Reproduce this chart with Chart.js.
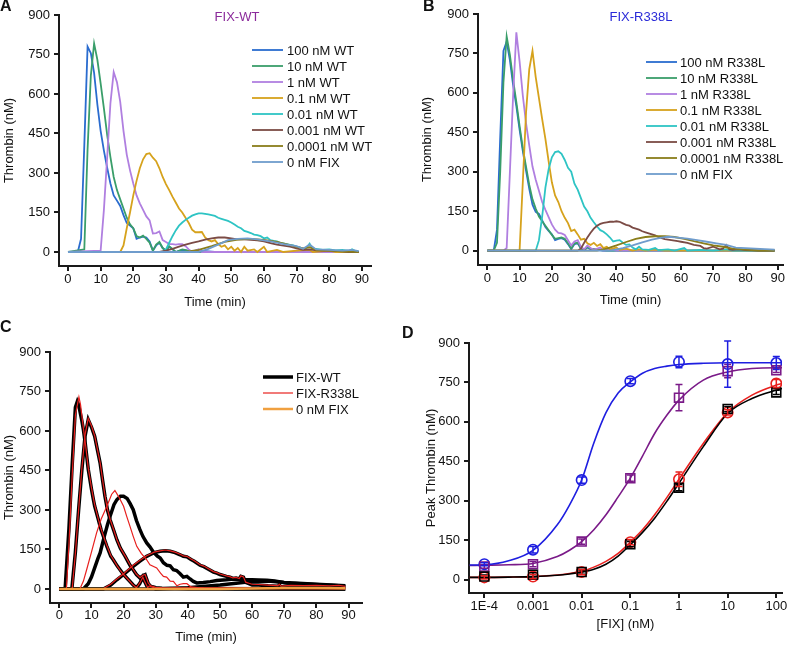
<!DOCTYPE html>
<html>
<head>
<meta charset="utf-8">
<script src="https://cdn.jsdelivr.net/npm/chart.js@4.4.1/dist/chart.umd.min.js"></script>
<style>
  body { margin: 0; background: #fff; width: 790px; height: 645px; position: relative; overflow: hidden;
         font-family: "Liberation Sans", Arial, sans-serif; }
  canvas { position: absolute; }
  .lbl { position: absolute; font-weight: bold; font-size: 16px; line-height: 16px; color: #111; }
  .ttl { position: absolute; font-size: 13px; line-height: 16px; width: 120px; text-align: center; }
</style>
</head>
<body>
<canvas id="chartA" width="395" height="320" style="left:0;top:0"></canvas>
<canvas id="chartB" width="372" height="320" style="left:418px;top:0"></canvas>
<canvas id="chartC" width="395" height="325" style="left:0;top:320px"></canvas>
<canvas id="chartD" width="372" height="325" style="left:418px;top:320px"></canvas>
<div class="lbl" style="left:0;top:-2px">A</div>
<div class="lbl" style="left:423px;top:-2px">B</div>
<div class="lbl" style="left:0;top:319px">C</div>
<div class="lbl" style="left:402px;top:325px">D</div>
<div class="ttl" style="left:177px;top:9px;color:#8b2a9b">FIX-WT</div>
<div class="ttl" style="left:581px;top:9px;color:#2a2ad8">FIX-R338L</div>
<script>
// ---- tick labels ----
const timeTicks = [0, 10, 20, 30, 40, 50, 60, 70, 80, 90];
const thrombinTicks = [0, 150, 300, 450, 600, 750, 900];
const concTicks = [1e-4, 1e-3, 0.01, 0.1, 1, 10, 100];
const concTickLabels = ['1E-4', '0.001', '0.01', '0.1', '1', '10', '100'];

// ---- panel A : FIX-WT thrombin generation, [time (min), thrombin (nM)] ----
const wtLabels = ['100 nM WT', '10 nM WT', '1 nM WT', '0.1 nM WT', '0.01 nM WT', '0.001 nM WT', '0.0001 nM WT', '0 nM FIX'];
const wt100 = [[0,0],[3,0],[4,50],[5,405],[6,780],[7,755],[8,680],[9,560],[10,460],[11,385],[12,320],[13,260],[14,215],[15,195],[16,175],[17,140],[18,110],[19,100],[20,90],[21,50],[22,55],[23,58],[24,55],[25,40],[26,5],[27,25],[28,35],[29,15],[30,5],[31,20],[32,10],[33,0],[35,8],[37,3],[40,5],[45,0],[89,0]];
const wt10 = [[0,0],[5,10],[6,390],[7,670],[8,792],[9,730],[10,640],[11,545],[12,445],[13,360],[14,285],[15,235],[16,200],[17,165],[18,130],[19,105],[20,90],[21,60],[22,55],[23,62],[24,50],[25,35],[26,5],[27,28],[28,38],[29,15],[30,5],[31,22],[32,12],[33,0],[35,10],[37,5],[39,0],[89,0]];
const wt1 = [[0,0],[10,5],[11,160],[12,360],[13,565],[14,683],[15,645],[16,570],[17,460],[18,370],[19,310],[20,260],[21,215],[22,185],[23,160],[24,135],[25,120],[26,70],[27,72],[28,78],[29,45],[30,38],[31,30],[32,30],[33,28],[34,30],[35,30],[36,22],[37,10],[38,0],[39,5],[40,10],[41,0],[89,0]];
const wt01 = [[0,0],[16,0],[17,25],[18,90],[19,150],[20,215],[21,270],[22,318],[23,352],[24,372],[25,375],[26,358],[27,345],[28,318],[29,285],[30,258],[31,235],[32,210],[33,188],[34,165],[35,150],[36,130],[37,110],[38,85],[39,75],[40,75],[41,76],[42,55],[43,45],[44,40],[45,45],[46,30],[47,20],[48,25],[49,10],[50,20],[51,5],[52,15],[53,0],[54,20],[55,5],[57,10],[58,0],[60,20],[61,0],[64,8],[66,0],[70,5],[74,8],[75,0],[80,5],[82,0],[89,0]];
const wt001 = [[0,0],[29,0],[30,10],[31,35],[32,60],[33,82],[34,100],[35,112],[36,122],[37,130],[38,138],[39,143],[40,147],[41,147],[42,145],[43,143],[44,140],[45,137],[46,130],[47,126],[48,122],[49,118],[50,112],[51,104],[52,96],[53,90],[54,80],[55,76],[56,72],[57,66],[58,64],[59,60],[60,52],[61,55],[62,45],[63,42],[64,40],[65,35],[66,33],[67,30],[68,27],[69,25],[70,20],[71,18],[72,12],[73,15],[74,32],[75,10],[76,12],[78,8],[80,10],[82,6],[84,8],[86,4],[87,10],[88,4],[89,2]];
const wt0001 = [[0,0],[28,0],[30,5],[32,12],[34,20],[36,28],[38,35],[40,40],[42,47],[44,52],[46,55],[48,55],[50,52],[52,48],[54,48],[56,46],[58,44],[60,40],[62,34],[64,28],[66,24],[68,20],[70,14],[72,8],[74,10],[76,6],[78,5],[80,6],[82,3],[84,2],[86,0],[89,0]];
const wt00001 = [[0,0],[36,0],[40,8],[44,22],[48,38],[52,47],[56,50],[60,46],[64,38],[68,26],[72,14],[74,18],[76,8],[80,5],[84,2],[89,0]];
const noFixA = [[0,0],[40,0],[43,12],[46,28],[49,45],[52,50],[55,52],[58,48],[62,40],[66,30],[70,22],[72,12],[74,28],[76,10],[80,8],[84,5],[87,8],[89,3]];

// ---- panel B : FIX-R338L ----
const rlLabels = ['100 nM R338L', '10 nM R338L', '1 nM R338L', '0.1 nM R338L', '0.01 nM R338L', '0.001 nM R338L', '0.0001 nM R338L', '0 nM FIX'];
const rl100 = [[0,0],[2,0],[3,80],[4,430],[5,760],[6,795],[7,725],[8,630],[9,550],[10,460],[11,380],[12,305],[13,235],[14,175],[15,148],[16,140],[17,115],[18,90],[19,75],[20,62],[21,40],[22,45],[23,48],[24,42],[25,25],[26,6],[27,25],[28,28],[29,8],[30,2],[31,12],[32,5],[34,3],[36,0],[89,0]];
const rl10 = [[0,0],[2,0],[3,30],[4,300],[5,640],[6,815],[7,745],[8,650],[9,565],[10,475],[11,390],[12,320],[13,250],[14,195],[15,160],[16,130],[17,112],[18,95],[19,78],[20,60],[21,45],[22,48],[23,50],[24,45],[25,28],[26,8],[27,28],[28,30],[29,10],[30,3],[31,15],[32,8],[34,5],[36,0],[89,0]];
const rl1 = [[0,0],[5,0],[6,10],[7,300],[8,590],[9,830],[10,720],[11,590],[12,485],[13,400],[14,320],[15,270],[16,228],[17,185],[18,155],[19,128],[20,100],[21,80],[22,68],[23,66],[24,60],[25,40],[26,20],[27,35],[28,40],[29,15],[30,5],[31,20],[32,10],[33,3],[35,12],[36,0],[38,5],[40,0],[89,0]];
const rl01 = [[0,0],[10,0],[11,260],[12,525],[13,690],[14,760],[15,660],[16,580],[17,500],[18,425],[19,340],[20,260],[21,210],[22,185],[23,150],[24,125],[25,105],[26,75],[27,80],[28,62],[29,42],[30,45],[31,28],[32,22],[33,30],[34,18],[35,25],[36,10],[37,15],[38,5],[40,12],[41,3],[43,8],[45,0],[47,5],[49,0],[52,4],[55,0],[89,0]];
const rl001 = [[0,0],[15,0],[16,40],[17,130],[18,240],[19,310],[20,355],[21,375],[22,378],[23,368],[24,345],[25,315],[26,300],[27,255],[28,232],[29,200],[30,168],[31,150],[32,125],[33,108],[34,92],[35,78],[36,72],[37,62],[38,50],[39,35],[40,38],[41,40],[42,30],[43,22],[44,24],[45,12],[46,5],[47,15],[48,5],[50,3],[52,10],[53,2],[56,5],[58,0],[61,10],[62,0],[66,3],[70,0],[74,5],[76,0],[89,0]];
const rl0001 = [[0,0],[28,0],[29,8],[30,30],[31,50],[32,68],[33,84],[34,95],[35,102],[36,106],[37,108],[38,110],[39,110],[40,112],[41,110],[42,104],[43,98],[44,95],[45,88],[46,84],[47,80],[48,74],[49,70],[50,66],[51,62],[52,58],[53,52],[54,48],[55,44],[56,42],[57,40],[58,38],[59,36],[60,34],[62,30],[64,22],[66,18],[67,10],[68,8],[70,15],[72,5],[73,8],[74,22],[75,5],[76,3],[78,5],[80,2],[84,0],[89,0]];
const rl00001 = [[0,0],[34,0],[37,8],[40,20],[43,33],[46,45],[49,52],[52,55],[55,55],[58,52],[61,45],[64,36],[67,28],[70,20],[73,15],[76,8],[79,5],[82,2],[84,0],[89,0]];
const noFixB = [[0,0],[38,0],[42,10],[45,20],[48,32],[51,42],[54,50],[56,53],[59,50],[62,46],[65,40],[68,34],[71,28],[74,22],[77,12],[80,10],[83,8],[86,6],[89,4]];

// ---- panel C : WT (black) vs R338L (red) overlays ----
const cLabels = ['FIX-WT', 'FIX-R338L', '0 nM FIX'];
const cWt1 = [[0,0],[1.8,0],[3,230],[4,470],[5,690],[5.6,712],[6,700],[7,640],[7.5,605],[8,560],[9,455],[10,380],[10.6,340],[11,315],[12,270],[12.7,238],[13,225],[14,190],[14.8,162],[16,125],[16.8,111],[18,88],[18.9,73],[20,55],[21.5,35],[23,15],[24,5],[25,20],[26,45],[26.5,30],[27.5,5],[28,10],[30,0],[40,2],[89,0]];
const cWt2 = [[0,0],[3.9,0],[5,140],[6,300],[7,450],[8,580],[9,643],[10,615],[11,580],[12,520],[12.7,478],[13.5,410],[14.2,352],[15,300],[15.8,263],[17,220],[17.9,187],[19,155],[20.5,124],[22,90],[23,73],[24,55],[25.1,42],[26,50],[26.7,54],[27.7,20],[28.5,10],[29.3,8],[30,5],[32,3],[40,0],[89,0]];
const cWt3 = [[0,0],[7.5,0],[9,20],[10,45],[11,80],[12,115],[12.7,137],[14,200],[15,245],[15.8,276],[17,320],[17.9,339],[19,352],[20,352],[21.1,344],[22,325],[23,301],[24,260],[25,228],[26,200],[27.2,175],[28.2,160],[29.3,140],[30.5,125],[31.4,118],[32.4,100],[33.5,90],[34.5,88],[35.5,73],[36.5,70],[37.6,58],[38.6,45],[39.7,48],[40.7,38],[41.7,29],[42.8,23],[44.8,25],[47,28],[49,32],[52,35],[54.2,38],[57,36],[60,35],[62,34],[64.6,33],[67,30],[69.8,25],[72,22],[75,20],[78,18],[81,16],[84,14],[87,12],[89,10]];
const cWt4 = [[0,0],[13.7,0],[16,15],[17.9,35],[20,55],[23,86],[25,105],[27.2,124],[28.2,130],[29.5,138],[31.4,143],[33,145],[34.5,143],[36,138],[37.6,130],[38.6,124],[39.7,122],[41,112],[42,105],[43.8,90],[45,85],[46,78],[48,64],[49,60],[50,55],[52,48],[53.1,45],[54,40],[55,42],[56,38],[56.5,48],[57.3,45],[58,25],[59,20],[60,15],[62,15],[65,12],[68,10],[68.5,15],[69,8],[72,12],[76,10],[80,12],[84,10],[87,12],[89,8]];
const cWt5 = [[0,0],[30,0],[40,5],[50,15],[60,28],[65,30],[70,25],[80,18],[89,12]];
const cRl1 = [[0,0],[2.2,0],[3,170],[4,430],[5,660],[6.1,729],[6.6,700],[7.5,610],[8,565],[9,460],[10,385],[10.6,345],[11,320],[12,272],[12.7,240],[13,228],[14,192],[14.8,165],[16,128],[16.8,112],[18,88],[18.9,72],[20,55],[21.5,35],[23,15],[24,5],[25,22],[26,45],[26.5,30],[27.5,6],[28,12],[30,2],[40,4],[89,2]];
const cRl2 = [[0,0],[4,0],[5,135],[6,300],[7,455],[8,585],[9,648],[10,620],[11,582],[12,522],[12.7,480],[13.5,412],[14.2,355],[15,302],[15.8,265],[17,222],[17.9,188],[19,156],[20.5,125],[22,92],[23,74],[24,56],[25.1,43],[26,52],[26.7,55],[27.7,22],[28.5,12],[29.3,9],[30,6],[32,4],[40,2],[89,2]];
const cRl3 = [[0,0],[6.4,0],[7.5,30],[8.5,73],[10,140],[11.6,213],[13,265],[14.8,314],[16.3,360],[17.3,374],[18.5,350],[20,314],[21,275],[22,238],[23,200],[24.1,162],[25.5,135],[27.2,111],[28.2,92],[30.3,80],[31.5,60],[32.4,48],[33.4,45],[34.5,30],[35.5,29],[36.6,12],[37.6,18],[38.6,20],[39.7,20],[41,8],[43,5],[45,3],[50,2],[89,0]];
const cRl4 = [[0,0],[13.5,0],[16,18],[17.9,38],[20,58],[23,90],[25,108],[27.2,126],[28.2,132],[29.5,140],[31.4,145],[33,148],[34.5,145],[36,140],[37.6,132],[38.6,126],[39.7,124],[41,114],[42,107],[43.8,92],[45,87],[46,80],[48,66],[49,62],[50,57],[52,50],[53.1,47],[54,42],[55,44],[56,40],[56.5,50],[57.3,46],[58,26],[59,22],[60,18],[62,17],[65,15],[68,13],[68.5,18],[69,11],[72,14],[76,13],[80,14],[84,12],[87,14],[89,10]];
const cNoFix = [[0,0],[50,0],[60,2],[70,4],[80,4],[89,3]];

// ---- panel D : peak thrombin vs [FIX] ----
const dConc = [1e-4, 1e-3, 0.01, 0.1, 1, 10, 100];
const peakBlue = [59, 114, 379, 755, 828, 820, 824];
const peakPurple = [50, 59, 145, 386, 692, 793, 796];
const peakRed = [9, 12, 29, 143, 382, 636, 746];
const peakBlack = [12, 19, 29, 135, 350, 649, 712];
const errBlue = [6, 12, 12, 10, 22, 88, 25];
const errPurple = [6, 10, 10, 12, 50, 25, 8];
const errRed = [6, 8, 10, 10, 28, 10, 15];
const errBlack = [6, 8, 8, 10, 12, 10, 8];
// fitted curves
const fitX = [5e-5, 1e-4, 3.16e-4, 1e-3, 3.16e-3, 5.62e-3, 0.01, 0.0178, 0.0316, 0.0562, 0.1, 0.178, 0.316, 0.562, 1, 3.16, 10, 31.6, 100, 131];
const fitBlue = [56, 57, 72, 112, 209, 284, 379, 520, 635, 710, 752, 785, 803, 812, 818, 823, 825, 825, 825, 825];
const fitPurple = [54, 55, 57, 62, 88, 112, 145, 190, 247, 315, 386, 470, 556, 625, 683, 759, 790, 803, 806, 806];
const fitRed = [9, 9, 10, 12, 18, 24, 32, 48, 70, 100, 143, 190, 247, 312, 382, 518, 636, 702, 740, 746];
const fitBlack = [9, 9, 10, 12, 17, 22, 29, 40, 59, 90, 133, 180, 234, 298, 367, 506, 632, 689, 721, 727];

Chart.defaults.font.family = '"Liberation Sans", Arial, sans-serif';
Chart.defaults.font.size = 13;
Chart.defaults.color = '#111';

const lineColors = ['#2a6ccf', '#3a9e6a', '#b07fe0', '#d6a21c', '#2ec4c4', '#7b4b45', '#8a7d1a', '#6f9ccc'];

// legend drawn as short line + label, inside the plot
const lineLegend = {
  id: 'lineLegend',
  afterDatasetsDraw(chart, args, opts) {
    if (!opts || !opts.show) return;
    const ctx = chart.ctx;
    ctx.save();
    ctx.font = '13px "Liberation Sans", Arial, sans-serif';
    ctx.textBaseline = 'middle';
    let y = opts.y;
    chart.data.datasets.forEach(ds => {
      if (ds.inLegend === false) return;
      ctx.strokeStyle = ds.borderColor;
      ctx.lineWidth = ds.borderWidth;
      ctx.beginPath();
      ctx.moveTo(opts.x0, y);
      ctx.lineTo(opts.x1, y);
      ctx.stroke();
      ctx.fillStyle = '#111';
      ctx.fillText(ds.label, opts.tx, y + 1);
      y += opts.rowH;
    });
    ctx.restore();
  }
};

const errorBars = {
  id: 'errorBars',
  afterDatasetsDraw(chart) {
    const ctx = chart.ctx;
    const ys = chart.scales.y;
    chart.data.datasets.forEach((ds, i) => {
      if (!ds.errors) return;
      const meta = chart.getDatasetMeta(i);
      ctx.save();
      ctx.strokeStyle = ds.borderColor;
      ctx.lineWidth = 1.5;
      meta.data.forEach((pt, j) => {
        const v = ds.data[j][1], e = ds.errors[j];
        const top = ys.getPixelForValue(v + e), bot = ys.getPixelForValue(v - e);
        ctx.beginPath();
        ctx.moveTo(pt.x, top); ctx.lineTo(pt.x, bot);
        ctx.moveTo(pt.x - 3.5, top); ctx.lineTo(pt.x + 3.5, top);
        ctx.moveTo(pt.x - 3.5, bot); ctx.lineTo(pt.x + 3.5, bot);
        ctx.stroke();
      });
      ctx.restore();
    });
  }
};

function axis(o) {
  return {
    type: o.type || 'linear',
    min: o.min, max: o.max,
    grid: { drawOnChartArea: false, drawTicks: true, tickLength: 5, color: '#1a1a1a', lineWidth: 2 },
    border: { display: true, color: '#1a1a1a', width: 2 },
    ticks: { color: '#111', padding: o.tickPad, autoSkip: false, maxRotation: 0,
             callback: o.labels ? (v, i) => o.labels[i] : (v => v) },
    title: { display: true, text: o.title, color: '#111', font: { size: 13 }, padding: o.titlePad },
    afterBuildTicks: s => { s.ticks = o.ticks.map(v => ({ value: v })); },
    afterFit: s => { if (o.width) s.width = o.width; if (o.height) s.height = o.height; }
  };
}

function makeChart(id, datasets, g, legend) {
  return new Chart(document.getElementById(id), {
    type: 'line',
    data: { datasets: datasets },
    options: {
      responsive: false, animation: false, devicePixelRatio: 1,
      layout: { padding: { left: 0, top: g.top, right: g.right, bottom: 0 } },
      elements: { point: { radius: 0 }, line: { tension: 0 } },
      plugins: { legend: { display: false }, tooltip: { enabled: false }, lineLegend: legend || { show: false } },
      scales: { x: axis(g.x), y: axis(g.y) }
    },
    plugins: [lineLegend, errorBars]
  });
}

function series(labels, arrays) {
  const n = arrays.length;
  return arrays.map((d, i) => ({
    label: labels[i], data: d, borderColor: lineColors[i], borderWidth: 1.8,
    pointRadius: 0, order: n - i
  }));
}

// A
makeChart('chartA', series(wtLabels, [wt100, wt10, wt1, wt01, wt001, wt0001, wt00001, noFixA]), {
  top: 15, right: 24,
  x: { min: -2.75, max: 92.8, ticks: timeTicks, title: 'Time (min)', tickPad: 1, titlePad: { top: 0, bottom: 10 }, height: 54 },
  y: { min: -53.2, max: 900, ticks: thrombinTicks, title: 'Thrombin (nM)', tickPad: 4, titlePad: { top: 2, bottom: 0 }, width: 59 }
}, { show: true, x0: 252, x1: 283, tx: 287, y: 50, rowH: 16 });

// B
makeChart('chartB', series(rlLabels, [rl100, rl10, rl1, rl01, rl001, rl0001, rl00001, noFixB]), {
  top: 14, right: 7,
  x: { min: -2.88, max: 91.6, ticks: timeTicks, title: 'Time (min)', tickPad: 1, titlePad: { top: 0, bottom: 12 }, height: 55 },
  y: { min: -54.4, max: 900, ticks: thrombinTicks, title: 'Thrombin (nM)', tickPad: 4, titlePad: { top: 2, bottom: 0 }, width: 60 }
}, { show: true, x0: 228, x1: 259, tx: 262, y: 62, rowH: 16 });

// C
const cDatasets = [];
[cWt1, cWt2, cWt3, cWt4, cWt5].forEach((d, i) => cDatasets.push({
  label: cLabels[0], data: d, borderColor: '#000', borderWidth: 3.5, order: 3, inLegend: i === 0
}));
[cRl1, cRl2, cRl3, cRl4].forEach((d, i) => cDatasets.push({
  label: cLabels[1], data: d, borderColor: '#e8201e', borderWidth: 1.2, order: 2, inLegend: i === 0
}));
cDatasets.push({ label: cLabels[2], data: cNoFix, borderColor: '#f0a040', borderWidth: 2.5, order: 1 });
makeChart('chartC', cDatasets, {
  top: 32, right: 33,
  x: { min: -2.9, max: 94.2, ticks: timeTicks, title: 'Time (min)', tickPad: 0, titlePad: { top: 0, bottom: 0 }, height: 42 },
  y: { min: -53.2, max: 900, ticks: thrombinTicks, title: 'Thrombin (nM)', tickPad: 4, titlePad: { top: 2, bottom: 0 }, width: 50 }
}, { show: true, x0: 263, x1: 293, tx: 296, y: 57, rowH: 16 });

// D
const pair = (xs, ys) => xs.map((x, j) => [x, ys[j]]);
const dDatasets = [
  { label: 'fit blue', data: pair(fitX, fitBlue), borderColor: '#1e1ee0', borderWidth: 1.6, cubicInterpolationMode: 'monotone', order: 2 },
  { label: 'fit purple', data: pair(fitX, fitPurple), borderColor: '#7a1a88', borderWidth: 1.6, cubicInterpolationMode: 'monotone', order: 2 },
  { label: 'fit black', data: pair(fitX, fitBlack), borderColor: '#000', borderWidth: 1.6, cubicInterpolationMode: 'monotone', order: 2 },
  { label: 'fit red', data: pair(fitX, fitRed), borderColor: '#e8201e', borderWidth: 1.6, cubicInterpolationMode: 'monotone', order: 2 }
];
[[peakBlack, errBlack, '#000', 'rect'], [peakPurple, errPurple, '#7a1a88', 'rect'],
 [peakRed, errRed, '#e8201e', 'circle'], [peakBlue, errBlue, '#1e1ee0', 'circle']].forEach(([vals, errs, col, shape]) => {
  dDatasets.push({
    label: 'peak', data: pair(dConc, vals), errors: errs, showLine: false,
    borderColor: col, backgroundColor: 'rgba(255,255,255,0)', borderWidth: 1.6,
    pointStyle: shape, pointRadius: shape === 'rect' ? 6.3 : 5.2, order: 1
  });
});
makeChart('chartD', dDatasets, {
  top: 23, right: 8,
  x: { type: 'logarithmic', min: Math.pow(10, -4.315), max: Math.pow(10, 2.117), ticks: concTicks, labels: concTickLabels,
       title: '[FIX] (nM)', tickPad: 1, titlePad: { top: 0, bottom: 13 }, height: 52 },
  y: { min: -50.4, max: 900, ticks: thrombinTicks, title: 'Peak Thrombin (nM)', tickPad: 4, titlePad: { top: 6, bottom: 0 }, width: 51 }
});
</script>
</body>
</html>
